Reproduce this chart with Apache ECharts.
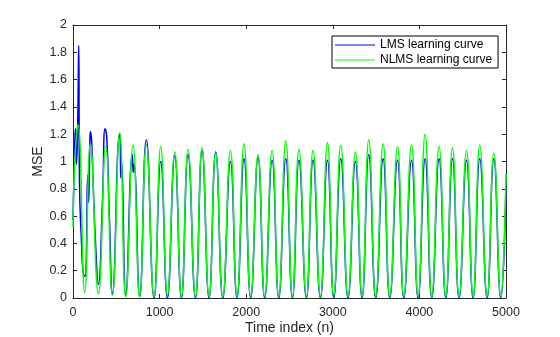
<!DOCTYPE html>
<html>
<head>
<meta charset="utf-8">
<script src="https://cdn.jsdelivr.net/npm/echarts@6/dist/echarts.min.js"></script>
<style>
  html, body { margin: 0; padding: 0; background: #fff; }
  #chart { width: 560px; height: 337px; }
</style>
</head>
<body>
<div id="chart"></div>
<script>
// Time-index ticks and MSE ticks
const xTicks = [0, 1000, 2000, 3000, 4000, 5000];
const yTicks = [0, 0.2, 0.4, 0.6, 0.8, 1, 1.2, 1.4, 1.6, 1.8, 2];

// LMS learning curve: turning points (time index, MSE)
const lmsIdx = [0, 15, 28, 40, 55, 66, 75, 100, 115, 135, 150, 170, 180, 195, 201, 215, 230, 260, 293,
  340, 370, 390, 420, 455, 539, 545, 552, 560, 609, 685, 695, 705, 770, 847, 936, 1013, 1090, 1175, 1252,
  1329, 1414, 1490, 1571, 1648, 1730, 1818, 1894, 1975, 2052, 2137, 2214, 2299, 2376, 2457, 2534, 2609,
  2695, 2772, 2857, 2938, 3011, 3092, 3176, 3261, 3338, 3415, 3496, 3581, 3658, 3747, 3820, 3909, 3985,
  4066, 4143, 4227, 4305, 4382, 4458, 4544, 4620, 4697, 4782, 4859, 4940, 5000];
const lmsMse = [0.57, 1.0, 1.24, 0.98, 1.3, 1.85, 0.85, 0.38, 0.2, 0.16, 0.2, 0.9, 0.7, 1.15, 1.22, 1.15, 0.89, 0.4, 0.1,
  0.7, 1.24, 1.18, 0.6, 0.03, 1.2, 1.18, 0.88, 1.0, 0.02, 1.05, 0.92, 0.98, 0.01, 1.16, 0.0, 1.0, 0.0, 1.04, 0.0,
  1.05, 0.0, 1.08, 0.0, 1.07, 0.0, 1.0, 0.0, 1.02, 0.0, 1.03, 0.0, 1.01, 0.0, 1.02, 0.0, 1.01,
  0.0, 1.01, 0.0, 1.01, 0.0, 1.02, 0.0, 1.0, 0.0, 1.05, 0.0, 1.02, 0.0, 1.01, 0.0, 1.01, 0.0,
  1.02, 0.0, 1.02, 0.0, 1.02, 0.0, 1.01, 0.0, 1.02, 0.0, 1.02, 0.0, 0.82];

// NLMS learning curve: turning points (time index, MSE)
const nlmsIdx = [0, 20, 58, 135, 201, 293, 378, 455, 539, 609, 693, 770, 847, 936, 1013, 1090, 1175, 1252,
  1329, 1414, 1490, 1571, 1648, 1730, 1818, 1894, 1975, 2052, 2137, 2214, 2299, 2376, 2457, 2534, 2609,
  2695, 2772, 2857, 2938, 3011, 3092, 3176, 3261, 3338, 3415, 3496, 3581, 3658, 3747, 3820, 3909, 3985,
  4066, 4143, 4227, 4305, 4382, 4458, 4544, 4620, 4697, 4782, 4859, 4940, 5000];
const nlmsMse = [0.52, 1.0, 1.27, 0.04, 1.13, 0.03, 1.11, 0.02, 1.21, 0.01, 1.12, 0.01, 1.12, 0.01, 1.11, 0.02, 1.07, 0.01,
  1.09, 0.01, 1.10, 0.01, 1.06, 0.01, 1.08, 0.01, 1.13, 0.01, 1.05, 0.01, 1.08, 0.01, 1.15, 0.01, 1.09,
  0.01, 1.08, 0.01, 1.14, 0.01, 1.12, 0.01, 1.07, 0.01, 1.16, 0.01, 1.13, 0.01, 1.11, 0.01, 1.12, 0.01,
  1.20, 0.01, 1.11, 0.01, 1.10, 0.01, 1.08, 0.01, 1.12, 0.01, 1.06, 0.01, 0.91];

const zip = (xs, ys) => xs.map((x, i) => [x, ys[i]]);

const axisColor = '#262626';
const font = 'Liberation Sans, Arial, Helvetica, sans-serif';

const chart = echarts.init(document.getElementById('chart'), null, { renderer: 'canvas' });

// Box-style frame: every side has a line and inward ticks
const frameAxis = {
  axisLine: { show: true, onZero: false, lineStyle: { color: axisColor, width: 1 } },
  axisTick: { show: true, inside: true, length: 4, lineStyle: { color: axisColor } },
  splitLine: { show: false }
};

const lineIcon = 'path://M0,0L40,0L40,1L0,1Z';

chart.setOption({
  animation: false,
  backgroundColor: '#fff',
  grid: { left: 73, right: 54, top: 25, bottom: 39, outerBoundsMode: 'none', containLabel: false },
  legend: {
    data: [
      { name: 'LMS learning curve', icon: lineIcon },
      { name: 'NLMS learning curve', icon: lineIcon }
    ],
    orient: 'vertical',
    left: 332,
    top: 36,
    padding: [2, 6, 1, 3],
    itemGap: 1,
    itemWidth: 40,
    itemHeight: 1,
    borderColor: '#000',
    borderWidth: 1,
    backgroundColor: '#fff',
    textStyle: { fontFamily: font, fontSize: 12, lineHeight: 14, color: '#000' }
  },
  xAxis: [
    Object.assign({
      type: 'value', min: xTicks[0], max: xTicks[xTicks.length - 1], interval: xTicks[1] - xTicks[0],
      name: 'Time index (n)', nameLocation: 'middle', nameGap: 23, nameMoveOverlap: false,
      nameTextStyle: { fontFamily: font, fontSize: 14, color: axisColor },
      axisLabel: { fontFamily: font, fontSize: 12.5, color: axisColor, margin: 8, formatter: v => String(v) }
    }, frameAxis),
    Object.assign({
      type: 'value', position: 'top', min: xTicks[0], max: xTicks[xTicks.length - 1], interval: xTicks[1] - xTicks[0],
      axisLabel: { show: false }
    }, frameAxis)
  ],
  yAxis: [
    Object.assign({
      type: 'value', min: yTicks[0], max: yTicks[yTicks.length - 1], interval: yTicks[1] - yTicks[0],
      name: 'MSE', nameLocation: 'middle', nameGap: 28, nameRotate: 90, nameMoveOverlap: false,
      nameTextStyle: { fontFamily: font, fontSize: 14, color: axisColor },
      axisLabel: { fontFamily: font, fontSize: 12.5, color: axisColor, margin: 6, formatter: v => String(+v.toFixed(1)) }
    }, frameAxis),
    Object.assign({
      type: 'value', position: 'right', min: yTicks[0], max: yTicks[yTicks.length - 1], interval: yTicks[1] - yTicks[0],
      axisLabel: { show: false }
    }, frameAxis)
  ],
  series: [
    {
      name: 'LMS learning curve', type: 'line', xAxisIndex: 0, yAxisIndex: 0,
      data: zip(lmsIdx, lmsMse), symbol: 'none', smooth: 0.5,
      lineStyle: { color: '#0000ff', width: 1.5 }, itemStyle: { color: '#0000ff' }
    },
    {
      name: 'NLMS learning curve', type: 'line', xAxisIndex: 0, yAxisIndex: 0,
      data: zip(nlmsIdx, nlmsMse), symbol: 'none', smooth: 0.5,
      lineStyle: { color: '#00ff00', width: 1.5 }, itemStyle: { color: '#00ff00' }
    }
  ]
});
</script>
</body>
</html>
